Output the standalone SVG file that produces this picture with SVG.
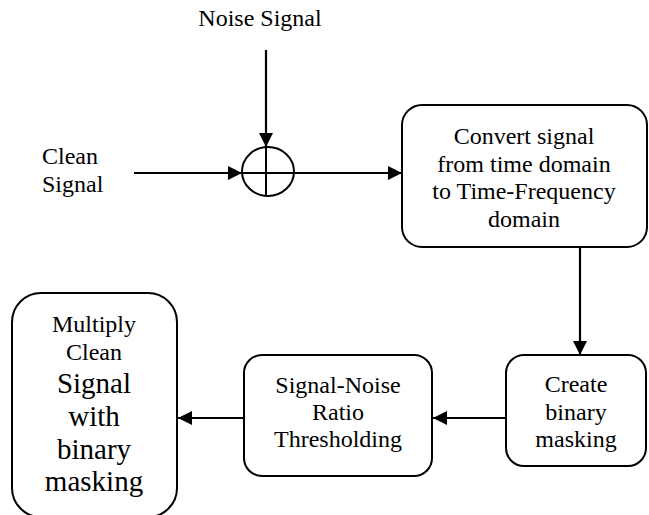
<svg xmlns="http://www.w3.org/2000/svg" width="649" height="515" viewBox="0 0 649 515">
<defs>
<style>
.t{font-family:"Liberation Serif","Times New Roman",serif;font-size:24px;fill:#000}
.c{text-anchor:middle}
.big{font-size:29px}
.box{fill:#fff;stroke:#000;stroke-width:2}
.ln{fill:none;stroke:#000;stroke-width:2.2}
</style>
<marker id="ah" markerUnits="userSpaceOnUse" markerWidth="14" markerHeight="14" refX="14" refY="7" orient="auto">
<path d="M0,0 L14,7 L0,14 z" fill="#000"/>
</marker>
</defs>
<rect width="649" height="515" fill="#fff"/>
<g id="noise-label"><text class="t c" x="260" y="26">Noise Signal</text></g>
<g id="clean-label"><text class="t" x="42" y="164">Clean</text><text class="t" x="42" y="192">Signal</text></g>
<g id="sum">
<ellipse cx="268" cy="171.5" rx="26" ry="24.5" fill="none" stroke="#000" stroke-width="2"/>
<line x1="266" y1="147" x2="266" y2="196" stroke="#000" stroke-width="2"/>
<line x1="242" y1="173" x2="294" y2="173" stroke="#000" stroke-width="2"/>
</g>
<g id="convert">
<rect class="box" x="402" y="105" width="245" height="142" rx="20"/>
<text class="t c" x="524" y="144">Convert signal</text>
<text class="t c" x="524" y="171.5">from time domain</text>
<text class="t c" x="524" y="199">to Time-Frequency</text>
<text class="t c" x="524" y="226.5">domain</text>
</g>
<g id="create">
<rect class="box" x="506" y="355" width="140" height="111" rx="18"/>
<text class="t c" x="576" y="392">Create</text>
<text class="t c" x="576" y="420">binary</text>
<text class="t c" x="576" y="447">masking</text>
</g>
<g id="snr">
<rect class="box" x="244" y="355" width="188" height="121" rx="18"/>
<text class="t c" x="338" y="393">Signal-Noise</text>
<text class="t c" x="338" y="420">Ratio</text>
<text class="t c" x="338" y="447">Thresholding</text>
</g>
<g id="multiply">
<rect class="box" x="12" y="293" width="165" height="224" rx="29"/>
<text class="t c" x="94" y="332">Multiply</text>
<text class="t c" x="94" y="360">Clean</text>
<text class="t c big" x="94" y="393">Signal</text>
<text class="t c big" x="94" y="426">with</text>
<text class="t c big" x="94" y="459">binary</text>
<text class="t c big" x="94" y="491">masking</text>
</g>
<g id="connectors">
<line class="ln" x1="266" y1="50" x2="266" y2="147" marker-end="url(#ah)"/>
<line class="ln" x1="134" y1="173" x2="242" y2="173" marker-end="url(#ah)"/>
<line class="ln" x1="294" y1="173" x2="402" y2="173" marker-end="url(#ah)"/>
<line class="ln" x1="580" y1="247" x2="580" y2="355" marker-end="url(#ah)"/>
<line class="ln" x1="506" y1="418" x2="433" y2="418" marker-end="url(#ah)"/>
<line class="ln" x1="244" y1="418" x2="178" y2="418" marker-end="url(#ah)"/>
</g>
</svg>
